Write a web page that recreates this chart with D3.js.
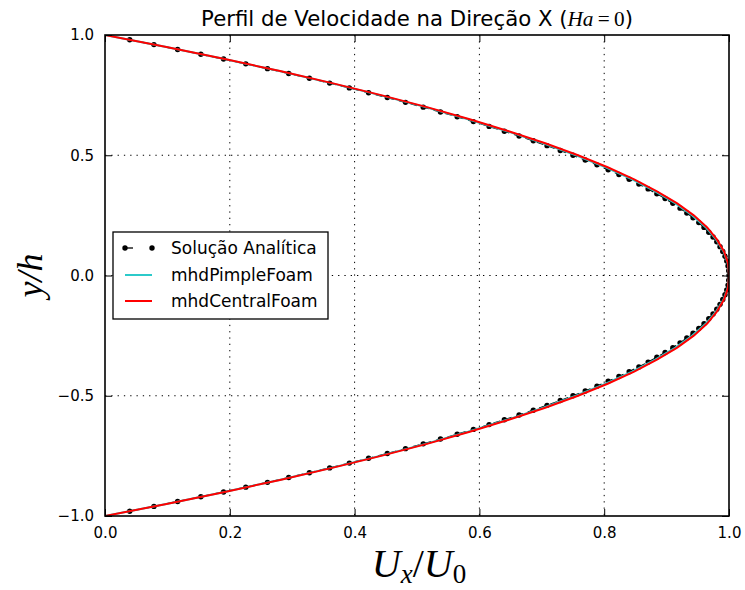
<!DOCTYPE html>
<html>
<head>
<meta charset="utf-8">
<script src="https://cdn.jsdelivr.net/npm/d3@7"></script>
<style>
  html, body { margin: 0; padding: 0; background: #fff; }
  svg { display: block; }
</style>
</head>
<body>
<svg id="chart" width="745" height="590"></svg>
<script>
// ---- data ----
const analyticY = [0.98,0.96,0.94,0.92,0.90,0.88,0.86,0.84,0.82,0.80,0.78,0.76,0.74,0.72,0.70,0.68,0.66,0.64,0.62,0.60,0.58,0.56,0.54,0.52,0.50,0.48,0.46,0.44,0.42,0.40,0.38,0.36,0.34,0.32,0.30,0.28,0.26,0.24,0.22,0.20,0.18,0.16,0.14,0.12,0.10,0.08,0.06,0.04,0.02,0.00,
  -0.02,-0.04,-0.06,-0.08,-0.10,-0.12,-0.14,-0.16,-0.18,-0.20,-0.22,-0.24,-0.26,-0.28,-0.30,-0.32,-0.34,-0.36,-0.38,-0.40,-0.42,-0.44,-0.46,-0.48,-0.50,-0.52,-0.54,-0.56,-0.58,-0.60,-0.62,-0.64,-0.66,-0.68,-0.70,-0.72,-0.74,-0.76,-0.78,-0.80,-0.82,-0.84,-0.86,-0.88,-0.90,-0.92,-0.94,-0.96,-0.98];
const analyticU = [0.0396,0.0784,0.1164,0.1536,0.19,0.2256,0.2604,0.2944,0.3276,0.36,0.3916,0.4224,0.4524,0.4816,0.51,0.5376,0.5644,0.5904,0.6156,0.64,0.6636,0.6864,0.7084,0.7296,0.75,0.7696,0.7884,0.8064,0.8236,0.84,0.8556,0.8704,0.8844,0.8976,0.91,0.9216,0.9324,0.9424,0.9516,0.96,0.9676,0.9744,0.9804,0.9856,0.99,0.9936,0.9964,0.9984,0.9996,1.0,
  0.9996,0.9984,0.9964,0.9936,0.99,0.9856,0.9804,0.9744,0.9676,0.96,0.9516,0.9424,0.9324,0.9216,0.91,0.8976,0.8844,0.8704,0.8556,0.84,0.8236,0.8064,0.7884,0.7696,0.75,0.7296,0.7084,0.6864,0.6636,0.64,0.6156,0.5904,0.5644,0.5376,0.51,0.4816,0.4524,0.4224,0.3916,0.36,0.3276,0.2944,0.2604,0.2256,0.19,0.1536,0.1164,0.0784,0.0396];

const simY = [1.00,0.95,0.90,0.85,0.80,0.75,0.70,0.65,0.60,0.55,0.50,0.45,0.40,0.35,0.30,0.25,0.20,0.15,0.10,0.05,0.00,
  -0.05,-0.10,-0.15,-0.20,-0.25,-0.30,-0.35,-0.40,-0.45,-0.50,-0.55,-0.60,-0.65,-0.70,-0.75,-0.80,-0.85,-0.90,-0.95,-1.00];
const pimpleU = [0.0,0.0981,0.1912,0.2793,0.3624,0.4405,0.5136,0.5817,0.6442,0.7023,0.7548,0.8023,0.8448,0.8817,0.9142,0.9411,0.963,0.9793,0.9912,0.9981,1.0,
  0.9981,0.9912,0.9793,0.963,0.9411,0.9142,0.8817,0.8448,0.8023,0.7548,0.7023,0.6442,0.5817,0.5136,0.4405,0.3624,0.2793,0.1912,0.0981,0.0];
const centralU = [0.0,0.0985,0.192,0.2805,0.364,0.4425,0.516,0.5845,0.647,0.7055,0.758,0.8055,0.848,0.8845,0.917,0.9435,0.965,0.9805,0.992,0.9985,1.0,
  0.9985,0.992,0.9805,0.965,0.9435,0.917,0.8845,0.848,0.8055,0.758,0.7055,0.647,0.5845,0.516,0.4425,0.364,0.2805,0.192,0.0985,0.0];

const xTicks = [0.0,0.2,0.4,0.6,0.8,1.0];
const yTicks = [-1.0,-0.5,0.0,0.5,1.0];
const seriesNames = ["Solução Analítica","mhdPimpleFoam","mhdCentralFoam"];
const titleText = "Perfil de Velocidade na Direção X (";

// ---- layout ----
const L = 105, R = 729, T = 35, B = 516;
const svg = d3.select("#chart");
const x = d3.scaleLinear().domain([0,1]).range([L,R]);
const y = d3.scaleLinear().domain([-1,1]).range([B,T]);
const fmt = d3.format(".1f");

const sans = "'DejaVu Sans', sans-serif";
const serif = "'Liberation Serif', serif";

// grid
const grid = svg.append("g");
grid.selectAll("line.gx").data(xTicks.filter(d => d > 0 && d < 1)).join("line")
  .attr("x1", d => x(d)).attr("x2", d => x(d)).attr("y1", T).attr("y2", B)
  .attr("stroke", "#000").attr("stroke-width", 1).attr("stroke-dasharray", "1.3,5");
grid.selectAll("line.gy").data(yTicks.filter(d => d > -1 && d < 1)).join("line")
  .attr("y1", d => y(d)).attr("y2", d => y(d)).attr("x1", L).attr("x2", R)
  .attr("stroke", "#000").attr("stroke-width", 1).attr("stroke-dasharray", "1.3,5");

// clip
svg.append("clipPath").attr("id","clip").append("rect")
  .attr("x", L).attr("y", T).attr("width", R-L).attr("height", B-T);
const plot = svg.append("g").attr("clip-path","url(#clip)");

const analytic = analyticY.map((v,i) => [analyticU[i], v]);
const line = d3.line().x(d => x(d[0])).y(d => y(d[1]));

plot.append("path").datum(analytic).attr("d", line)
  .attr("fill","none").attr("stroke","#000").attr("stroke-width",1.3).attr("stroke-dasharray","7,5");
plot.selectAll("circle.a").data(analytic).join("circle")
  .attr("cx", d => x(d[0])).attr("cy", d => y(d[1])).attr("r", 2.7).attr("fill","#000");

plot.append("path").datum(simY.map((v,i) => [pimpleU[i], v])).attr("d", line)
  .attr("fill","none").attr("stroke","#2ccaca").attr("stroke-width",2);
plot.append("path").datum(simY.map((v,i) => [centralU[i], v])).attr("d", line)
  .attr("fill","none").attr("stroke","#ff0000").attr("stroke-width",2);

// axes (ticks inward on all sides)
const tickLen = 7;
const axB = d3.axisBottom(x).tickValues(xTicks).tickFormat(fmt).tickSizeInner(-tickLen).tickSizeOuter(0).tickPadding(11);
const axT = d3.axisTop(x).tickValues(xTicks).tickFormat("").tickSizeInner(-tickLen).tickSizeOuter(0);
const axL = d3.axisLeft(y).tickValues(yTicks).tickFormat(fmt).tickSizeInner(-tickLen).tickSizeOuter(0).tickPadding(11);
const axR = d3.axisRight(y).tickValues(yTicks).tickFormat("").tickSizeInner(-tickLen).tickSizeOuter(0);
const gB = svg.append("g").attr("transform",`translate(0,${B})`).call(axB);
const gT = svg.append("g").attr("transform",`translate(0,${T})`).call(axT);
const gL = svg.append("g").attr("transform",`translate(${L},0)`).call(axL);
const gR = svg.append("g").attr("transform",`translate(${R},0)`).call(axR);
[gB,gT,gL,gR].forEach(g => {
  g.select(".domain").remove();
  g.selectAll(".tick line").attr("stroke","#000").attr("stroke-width",1);
  g.selectAll(".tick text").attr("font-family", sans).attr("font-size", 15).attr("fill","#000");
});

// frame
svg.append("rect").attr("x",L).attr("y",T).attr("width",R-L).attr("height",B-T)
  .attr("fill","none").attr("stroke","#000").attr("stroke-width",1.6);

// title (sized so that it spans the same width as the reference title)
const title = svg.append("text").attr("x",(L+R)/2).attr("y",26).attr("text-anchor","middle")
  .attr("font-family", sans).attr("font-size", 19.5).attr("fill","#000");
title.append("tspan").text(titleText);
title.append("tspan").attr("font-family", serif).attr("font-style","italic").text("Ha");
title.append("tspan").attr("font-family", serif).text("\u2009=\u20090");
title.append("tspan").text(")");
const tw = title.node().getComputedTextLength();
if (tw > 0) {
  const fs = Math.min(23, Math.max(17, 19.5 * 432 / tw));
  title.attr("font-size", fs);
}

// x label
const xl = svg.append("text").attr("x",(L+R)/2 + 2).attr("y",577).attr("text-anchor","middle")
  .attr("font-family", serif).attr("font-size", 40).attr("fill","#000");
xl.append("tspan").attr("font-style","italic").text("U");
xl.append("tspan").attr("font-style","italic").attr("font-size",27).attr("dy",6).text("x");
xl.append("tspan").attr("dy",-6).text("/");
xl.append("tspan").attr("font-style","italic").text("U");
xl.append("tspan").attr("font-size",27).attr("dy",6).text("0");

// y label
svg.append("text").attr("transform",`translate(42,${(T+B)/2}) rotate(-90)`).attr("text-anchor","middle")
  .attr("font-family", serif).attr("font-size", 36).attr("font-style","italic").attr("fill","#000")
  .text("y/h");

// legend
const lg = svg.append("g");
lg.append("rect").attr("x",113).attr("y",232).attr("width",215).attr("height",87)
  .attr("fill","#fff").attr("stroke","#000").attr("stroke-width",1.3);
const rowsY = [248, 275, 301];
lg.append("line").attr("x1",125).attr("x2",152).attr("y1",rowsY[0]).attr("y2",rowsY[0])
  .attr("stroke","#000").attr("stroke-width",1.3).attr("stroke-dasharray","8,19");
lg.selectAll("circle").data([125,152]).join("circle").attr("cx", d => d).attr("cy", rowsY[0]).attr("r",2.7).attr("fill","#000");
lg.append("line").attr("x1",125).attr("x2",152).attr("y1",rowsY[1]).attr("y2",rowsY[1]).attr("stroke","#2ccaca").attr("stroke-width",2);
lg.append("line").attr("x1",125).attr("x2",152).attr("y1",rowsY[2]).attr("y2",rowsY[2]).attr("stroke","#ff0000").attr("stroke-width",2);
lg.selectAll("text").data(seriesNames).join("text")
  .attr("x",171).attr("y",(d,i) => rowsY[i]).attr("dy","0.35em")
  .attr("font-family", sans).attr("font-size",17).attr("fill","#000").text(d => d);
</script>
</body>
</html>
